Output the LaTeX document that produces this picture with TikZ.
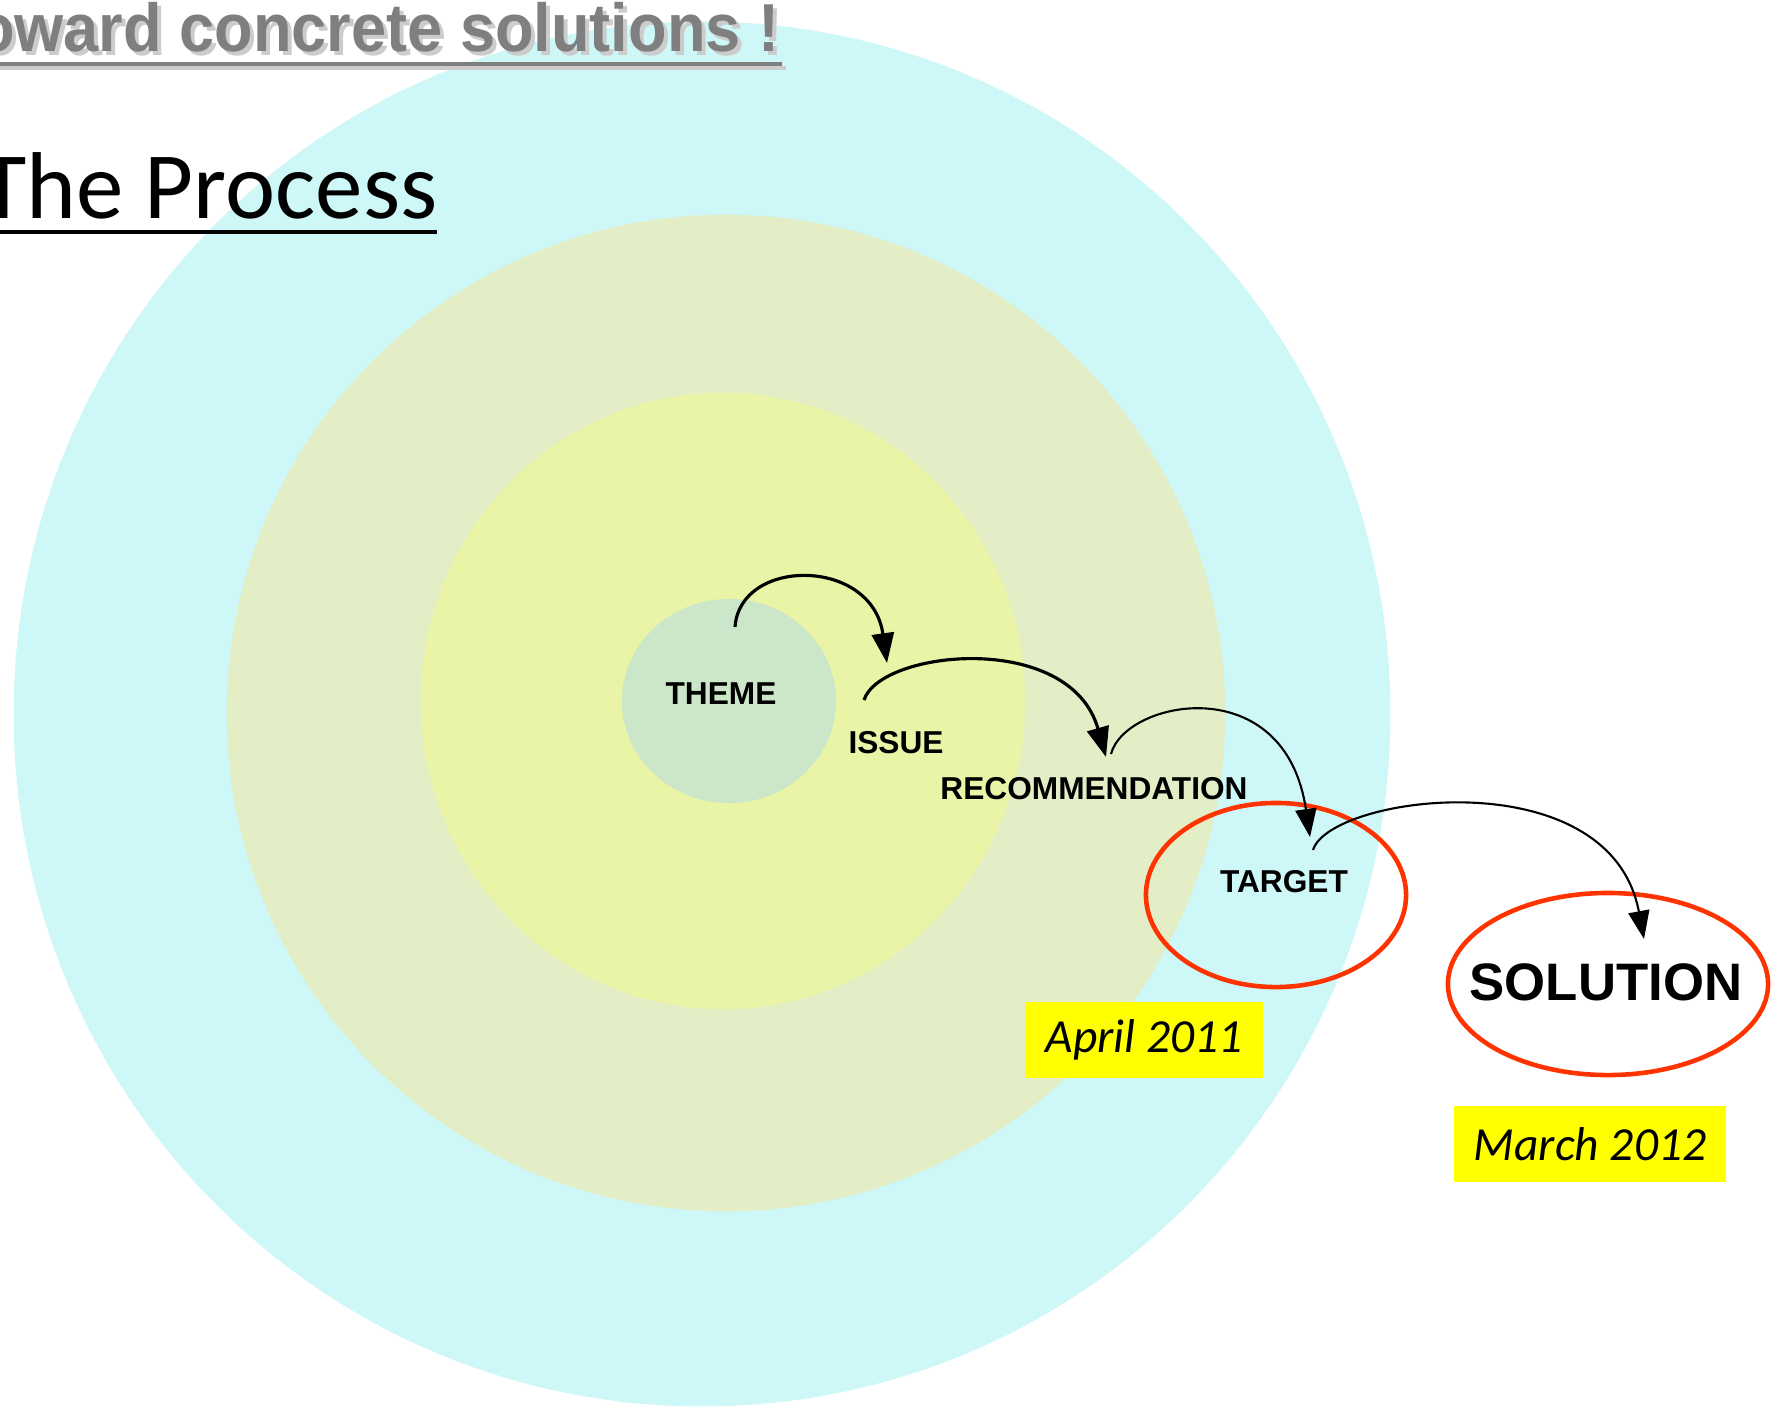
\documentclass[tikz,border=0pt]{standalone}
\usepackage{fontspec}
\setmainfont{Liberation Sans}
\newfontfamily\calfont{Carlito}
\usetikzlibrary{shapes.geometric,arrows.meta}
\definecolor{outerc}{HTML}{CEF8F8}
\definecolor{midc}{HTML}{E3EEC6}
\definecolor{innerc}{HTML}{E9F4A6}
\definecolor{themec}{HTML}{CBE6C8}
\definecolor{redc}{HTML}{FF3300}
\definecolor{titlegray}{HTML}{7F7F7F}
\definecolor{shadowgray}{HTML}{CCCCCC}
\definecolor{dateyellow}{HTML}{FFFF00}
\tikzset{
  blob/.style={ellipse, draw=none, inner sep=0pt},
  redring/.style={ellipse, draw=redc, line width=1.3pt, inner sep=0pt},
  lbl/.style={font=\fontsize{9}{10}\selectfont\bfseries, inner sep=0pt},
  datebox/.style={fill=dateyellow, inner sep=0pt, font=\calfont\itshape\fontsize{13.5}{15}\selectfont},
  bigarrow/.style={line width=0.9pt, -{Triangle[length=8.5pt,width=6.3pt]}},
  smallarrow/.style={line width=0.6pt, -{Triangle[length=8pt,width=6pt]}}
}
\begin{document}
\begin{tikzpicture}[x=0.01cm,y=-0.01cm]
\clip (0,0) rectangle (1778,1411);
\fill[white] (0,0) rectangle (1778,1411);
% background ellipses
\node[blob, fill=outerc, minimum width=13.76cm, minimum height=13.84cm] (outer) at (702,714) {};
\node[blob, fill=midc, minimum width=9.98cm, minimum height=9.96cm] (mid) at (726,713) {};
\node[blob, fill=innerc, minimum width=6.04cm, minimum height=6.16cm] (inner) at (723,701) {};
\node[blob, fill=themec, minimum width=2.14cm, minimum height=2.04cm] (themeblob) at (729,701) {};
% titles
\node[anchor=base east, inner sep=0pt, text=shadowgray, font=\fontsize{19.3}{22}\selectfont\bfseries] (titleshadow) at (784,55) {\scalebox{0.93}[1]{Toward concrete solutions !}};
\draw[shadowgray, line width=1.4pt] (0,68) -- (786,68);
\node[anchor=base east, inner sep=0pt, text=titlegray, font=\fontsize{19.3}{22}\selectfont\bfseries] (title) at (780,51) {\scalebox{0.93}[1]{Toward concrete solutions !}};
\draw[titlegray, line width=1.4pt] (0,64) -- (782,64);
\node[anchor=base east, inner sep=0pt, font=\calfont\fontsize{27}{30}\selectfont] (process) at (438,218) {The Process};
\draw[black, line width=1.4pt] (0,232) -- (437,232);
% red rings
\node[redring, minimum width=2.6cm, minimum height=1.84cm] (targetring) at (1276,895) {};
\node[redring, minimum width=3.2cm, minimum height=1.82cm] (solring) at (1608,984) {};
% labels
\node[lbl] (theme) at (721,694) {THEME};
\node[lbl] (issue) at (896,743) {ISSUE};
\node[lbl] (rec) at (1094,789) {RECOMMENDATION};
\node[lbl] (target) at (1284,882) {TARGET};
\node[inner sep=0pt, font=\fontsize{15}{17}\selectfont\bfseries] (solution) at (1606,982) {SOLUTION};
% dates
\node[datebox, minimum width=2.38cm, minimum height=0.76cm] (april) at (1144,1040) {April 2011};
\node[datebox, minimum width=2.72cm, minimum height=0.76cm] (march) at (1590,1144) {March 2012};
% arrow end points
\coordinate (a1s) at (735,627);
\coordinate (a1e) at (887,663);
\coordinate (a2s) at (864,700);
\coordinate (a2e) at (1106,757);
\coordinate (a3s) at (1111,754);
\coordinate (a3e) at (1310,837);
\coordinate (a4s) at (1313,850);
\coordinate (a4e) at (1644,939);
\draw[bigarrow] (a1s) .. controls (740,557) and (872,557) .. (a1e);
\draw[bigarrow] (a2s) .. controls (880,650) and (1070,630) .. (a2e);
\draw[smallarrow] (a3s) .. controls (1125,700) and (1285,668) .. (a3e);
\draw[smallarrow] (a4s) .. controls (1330,795) and (1610,758) .. (a4e);
\end{tikzpicture}
\end{document}
